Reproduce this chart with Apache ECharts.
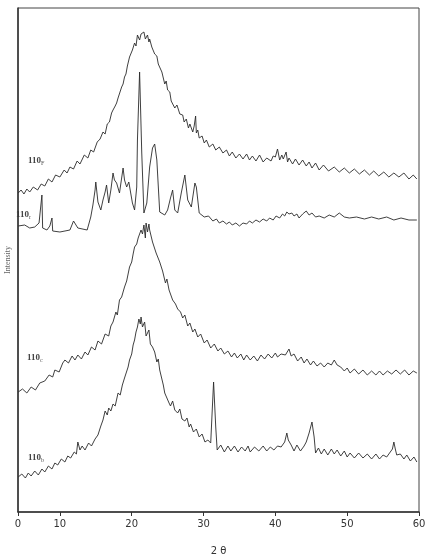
<!DOCTYPE html>
<html>
<head>
<meta charset="utf-8">
<script src="https://cdn.jsdelivr.net/npm/echarts@6/dist/echarts.min.js"></script>
<style>
  html, body { margin: 0; padding: 0; background: #fff; }
  #chart { width: 430px; height: 554px; }
</style>
</head>
<body>
<div id="chart"></div>
<script>
// 2-theta ticks as printed on the original
var xTicks = [4.17, 10, 20, 30, 40, 50, 60];
var xTickLabels = ['0', '10', '20', '30', '40', '50', '60'];

// traces, [2theta, intensity (offset, arbitrary units)]
var trace110F = [
  [4.2, 319], [4.6, 322], [5.0, 318], [5.4, 323], [5.8, 320], [6.3, 325], [6.9, 322], [7.4, 328],
  [7.9, 326], [8.4, 333], [8.9, 330], [9.4, 337], [10.0, 335], [10.6, 342], [11.0, 339],
  [11.4, 345], [11.9, 343], [12.4, 351], [12.8, 348], [13.4, 357], [13.9, 354], [14.3, 362],
  [14.7, 360], [15.2, 370], [15.6, 373], [16.0, 380], [16.3, 378], [16.6, 388], [16.9, 390],
  [17.2, 399], [17.4, 402], [17.7, 406], [17.9, 409], [18.1, 414], [18.3, 415], [18.6, 425],
  [18.8, 428], [19.0, 435], [19.2, 438], [19.4, 446], [19.7, 455], [19.9, 454],
  [20.1, 462], [20.4, 469], [20.6, 466], [20.8, 477], [21.1, 472], [21.3, 478], [21.5, 476],
  [21.7, 480], [21.9, 473], [22.2, 477], [22.4, 470],
  [22.5, 473], [22.8, 465], [23.0, 466], [23.2, 458], [23.5, 456], [23.7, 448], [23.9, 447],
  [24.2, 440], [24.4, 438], [24.6, 428], [24.8, 431],
  [25.0, 422], [25.3, 420], [25.5, 411], [25.7, 413], [26.0, 404], [26.3, 407], [26.7, 398],
  [27.1, 397], [27.3, 390], [27.6, 393], [27.9, 384],
  [28.1, 388], [28.5, 380], [28.7, 386], [28.9, 396], [29.0, 379], [29.2, 382], [29.4, 374],
  [29.8, 376], [30.1, 369], [30.4, 372], [30.8, 365], [31.3, 368], [31.7, 362], [32.2, 365],
  [32.7, 359], [33.2, 362], [33.6, 356], [34.0, 360], [34.5, 354], [35.0, 358], [35.5, 353],
  [36.0, 358], [36.4, 352], [36.8, 356], [37.3, 351], [37.8, 357], [38.3, 350], [38.8, 354],
  [39.4, 351], [39.7, 356], [40.0, 355], [40.3, 363], [40.6, 352], [40.9, 357], [41.1, 353],
  [41.5, 360], [41.7, 350], [41.9, 354], [42.4, 348], [42.8, 353], [43.3, 347], [43.8, 352],
  [44.3, 346], [44.7, 350], [45.1, 344], [45.6, 349], [46.1, 342], [46.7, 347], [47.4, 341],
  [48.2, 345], [48.9, 340], [49.6, 344], [50.3, 339], [51.0, 343], [51.7, 338], [52.4, 342],
  [53.1, 337], [53.7, 341], [54.4, 336], [55.1, 340], [55.8, 335], [56.5, 339], [57.2, 335],
  [57.9, 339], [58.6, 333], [59.2, 337], [59.7, 333]
];
var trace110r = [
  [4.2, 286], [4.4, 285], [5.1, 287], [5.8, 284], [6.5, 285], [7.1, 289], [7.5, 317],
  [7.6, 284], [8.2, 282], [8.6, 286], [8.9, 294], [9.0, 281], [10.0, 280], [11.4, 282],
  [11.9, 291], [12.5, 284], [13.8, 282], [14.3, 295], [14.6, 307], [14.9, 322], [15.0, 330],
  [15.3, 310], [15.7, 302], [16.0, 312], [16.3, 320], [16.5, 327], [16.8, 309], [17.1, 322],
  [17.4, 339], [17.6, 332], [17.9, 329], [18.3, 319], [18.8, 344], [19.0, 332], [19.3, 325],
  [19.6, 330], [20.1, 309], [20.4, 302], [20.7, 325], [20.8, 372], [21.1, 440], [21.4, 359],
  [21.7, 299], [22.1, 309], [22.5, 345], [22.9, 364], [23.2, 368], [23.5, 352], [23.9, 300],
  [24.6, 297], [25.0, 302], [25.4, 314], [25.7, 322], [26.0, 302], [26.4, 299], [26.9, 319],
  [27.4, 337], [27.8, 312], [28.3, 305], [28.8, 329], [29.0, 325], [29.4, 299], [30.1, 295],
  [30.7, 296], [31.3, 291], [31.8, 293], [32.2, 289], [32.7, 291], [33.2, 288], [33.6, 290],
  [34.0, 287], [34.5, 289], [35.0, 286], [35.5, 289], [36.0, 288], [36.4, 291], [36.8, 289],
  [37.3, 292], [37.8, 290], [38.3, 293], [38.8, 291], [39.2, 294], [39.7, 292], [40.1, 296],
  [40.6, 294], [41.0, 298], [41.3, 296], [41.6, 300], [41.9, 298], [42.3, 299], [42.6, 296],
  [43.0, 298], [43.3, 294], [43.8, 298], [44.3, 301], [44.7, 297], [45.1, 299], [45.6, 295],
  [46.1, 296], [46.8, 294], [47.5, 297], [48.2, 295], [48.9, 299], [49.6, 295], [50.3, 294],
  [51.3, 295], [52.4, 293], [53.4, 295], [54.4, 293], [55.5, 295], [56.5, 292], [57.5, 294],
  [58.6, 292], [59.7, 292]
];
var trace110c = [
  [4.2, 120], [4.8, 123], [5.4, 119], [6.0, 125], [6.6, 122], [7.2, 129], [7.9, 131],
  [8.5, 137], [9.0, 135], [9.3, 142], [9.9, 140], [10.4, 149], [10.7, 152], [11.2, 149],
  [11.7, 156], [12.1, 152], [12.5, 157], [13.0, 153], [13.5, 160], [13.9, 157], [14.4, 165],
  [14.9, 162], [15.3, 171], [15.8, 168], [16.3, 178], [16.8, 176], [17.1, 186], [17.4, 190],
  [17.8, 200], [18.0, 197], [18.3, 212], [18.6, 215], [19.0, 225], [19.3, 231], [19.5, 229],
  [19.7, 245], [20.0, 250], [20.2, 258], [20.4, 265], [20.7, 268], [20.9, 274], [21.1, 273],
  [21.3, 282], [21.5, 278], [21.7, 287], [21.9, 274], [22.0, 289], [22.2, 280], [22.4, 288],
  [22.5, 282], [22.7, 276], [22.9, 270], [23.1, 272], [23.4, 259], [23.6, 261], [23.9, 250],
  [24.1, 252], [24.3, 241], [24.5, 243], [24.7, 229], [24.9, 233], [25.2, 222], [25.4, 224],
  [25.7, 212], [26.1, 208], [26.4, 203], [26.8, 200], [27.1, 194], [27.4, 197], [27.8, 186],
  [28.1, 189], [28.5, 180], [28.8, 183], [29.2, 175], [29.6, 178], [30.1, 169], [30.5, 172],
  [31.0, 164], [31.5, 168], [32.0, 161], [32.4, 164], [32.9, 158], [33.4, 161], [33.9, 155],
  [34.3, 159], [34.7, 154], [35.2, 158], [35.6, 152], [36.0, 157], [36.5, 152], [37.0, 156],
  [37.5, 151], [38.0, 157], [38.5, 153], [39.0, 158], [39.5, 154], [40.0, 159], [40.3, 155],
  [40.8, 158], [41.4, 157], [41.9, 163], [42.2, 156], [42.6, 158], [43.1, 151], [43.6, 155],
  [44.0, 149], [44.4, 153], [44.9, 147], [45.3, 151], [45.8, 146], [46.3, 149], [46.8, 145],
  [47.3, 149], [47.8, 147], [48.2, 152], [48.6, 147], [49.1, 145], [49.6, 141], [50.0, 144],
  [50.4, 139], [51.0, 143], [51.6, 138], [52.2, 142], [52.8, 137], [53.4, 141], [54.0, 137],
  [54.5, 141], [55.0, 137], [55.6, 141], [56.2, 138], [56.8, 142], [57.4, 138], [58.0, 142],
  [58.6, 137], [59.2, 141], [59.7, 139]
];
var trace110b = [
  [4.2, 35], [4.7, 38], [5.2, 34], [5.6, 39], [6.0, 36], [6.5, 41], [7.0, 37], [7.5, 43],
  [7.9, 40], [8.4, 46], [8.9, 43], [9.3, 49], [9.7, 47], [10.2, 53], [10.7, 50], [11.1, 56],
  [11.5, 54], [12.0, 60], [12.3, 58], [12.5, 70], [12.8, 62], [13.1, 66], [13.5, 62],
  [14.0, 69], [14.4, 66], [14.9, 73], [15.3, 77], [15.7, 86], [16.0, 92], [16.3, 101],
  [16.6, 97], [16.8, 104], [17.1, 101], [17.4, 108], [17.7, 106], [18.1, 119], [18.4, 117],
  [18.7, 127], [19.0, 134], [19.2, 132], [19.5, 145], [19.7, 152], [20.0, 158], [20.2, 167],
  [20.4, 172], [20.6, 180], [20.8, 185], [21.0, 193], [21.2, 188], [21.3, 195], [21.5, 185],
  [21.7, 183], [21.8, 190], [22.0, 176], [22.2, 174], [22.4, 182], [22.6, 168], [22.9, 165],
  [23.2, 160], [23.5, 150], [23.7, 153], [23.9, 142], [24.2, 133], [24.4, 127], [24.6, 119],
  [24.9, 114], [25.2, 109], [25.4, 106], [25.7, 111], [26.0, 102], [26.4, 99], [26.7, 103],
  [27.0, 93], [27.4, 91], [27.7, 94], [28.0, 85], [28.2, 88], [28.6, 80], [29.0, 83],
  [29.4, 75], [29.8, 78], [30.2, 70], [30.6, 72], [31.0, 69], [31.2, 100], [31.4, 130],
  [31.6, 100], [31.7, 85], [31.9, 62], [32.4, 67], [32.9, 60], [33.4, 66], [33.8, 61],
  [34.3, 66], [34.8, 60], [35.3, 65], [35.8, 61], [36.2, 66], [36.5, 60], [37.1, 65],
  [37.7, 61], [38.3, 66], [38.8, 61], [39.3, 65], [39.8, 62], [40.3, 66], [40.8, 65],
  [41.3, 70], [41.6, 79], [41.8, 72], [42.2, 67], [42.6, 61], [43.0, 67], [43.5, 61],
  [44.0, 66], [44.3, 70], [44.7, 79], [45.1, 90], [45.4, 75], [45.6, 59], [46.0, 64],
  [46.4, 58], [46.8, 63], [47.3, 57], [47.8, 63], [48.2, 58], [48.6, 62], [49.1, 56],
  [49.6, 61], [50.0, 55], [50.4, 59], [51.0, 54], [51.6, 59], [52.2, 54], [52.8, 58],
  [53.4, 53], [54.0, 58], [54.5, 53], [55.0, 57], [55.5, 55], [56.0, 60], [56.3, 63],
  [56.5, 70], [56.7, 63], [56.9, 57], [57.4, 58], [57.9, 53], [58.3, 57], [58.8, 51],
  [59.3, 55], [59.7, 50]
];

var seriesNames = ['110F', '110r', '110c', '110b'];
var seriesData = [trace110F, trace110r, trace110c, trace110b];
var seriesSub = ['F', 'r', 'c', 'b'];
var labelPos = [[28, 156], [16, 210], [27, 353], [28, 453]];

var chart = echarts.init(document.getElementById('chart'));

var series = seriesData.map(function (d, i) {
  return {
    name: seriesNames[i],
    type: 'line',
    data: d,
    showSymbol: false,
    symbol: 'none',
    lineStyle: { color: '#2a2a2a', width: 0.9 },
    animation: false
  };
});

var graphics = labelPos.map(function (p, i) {
  return {
    type: 'text',
    left: p[0],
    top: p[1],
    style: {
      text: '{m|110}{s|' + seriesSub[i] + '}',
      rich: {
        m: { fontFamily: 'Liberation Serif', fontSize: 9, fontWeight: 'bold', fill: '#444' },
        s: { fontFamily: 'Liberation Serif', fontSize: 6, fill: '#555', padding: [5, 0, 0, 0] }
      }
    }
  };
});

chart.setOption({
  backgroundColor: '#fff',
  animation: false,
  grid: {
    left: 18, right: 11, top: 8, bottom: 42,
    outerBoundsMode: 'none',
    show: true, borderColor: '#444', borderWidth: 1
  },
  xAxis: {
    type: 'value',
    min: 4.17,
    max: 60,
    name: '2 θ',
    nameLocation: 'middle',
    nameGap: 34,
    nameTextStyle: { fontFamily: 'DejaVu Sans', fontSize: 10, color: '#333' },
    axisLine: { lineStyle: { color: '#333', width: 1.5 } },
    axisTick: { customValues: xTicks, length: 4, inside: false, lineStyle: { color: '#333' } },
    axisLabel: {
      customValues: xTicks,
      formatter: function (v) {
        var k = xTicks.indexOf(v);
        return k >= 0 ? xTickLabels[k] : '';
      },
      fontFamily: 'DejaVu Sans',
      fontSize: 10,
      color: '#333',
      margin: 7
    },
    splitLine: { show: false }
  },
  yAxis: {
    type: 'value',
    min: 0,
    max: 504,
    name: 'Intensity',
    nameLocation: 'middle',
    nameGap: 6,
    nameTextStyle: { fontFamily: 'Liberation Serif', fontSize: 8, color: '#666' },
    axisLine: { show: true, lineStyle: { color: '#333', width: 1.5 } },
    axisTick: { show: false },
    axisLabel: { show: false },
    splitLine: { show: false }
  },
  graphic: graphics,
  series: series
});
</script>
</body>
</html>
